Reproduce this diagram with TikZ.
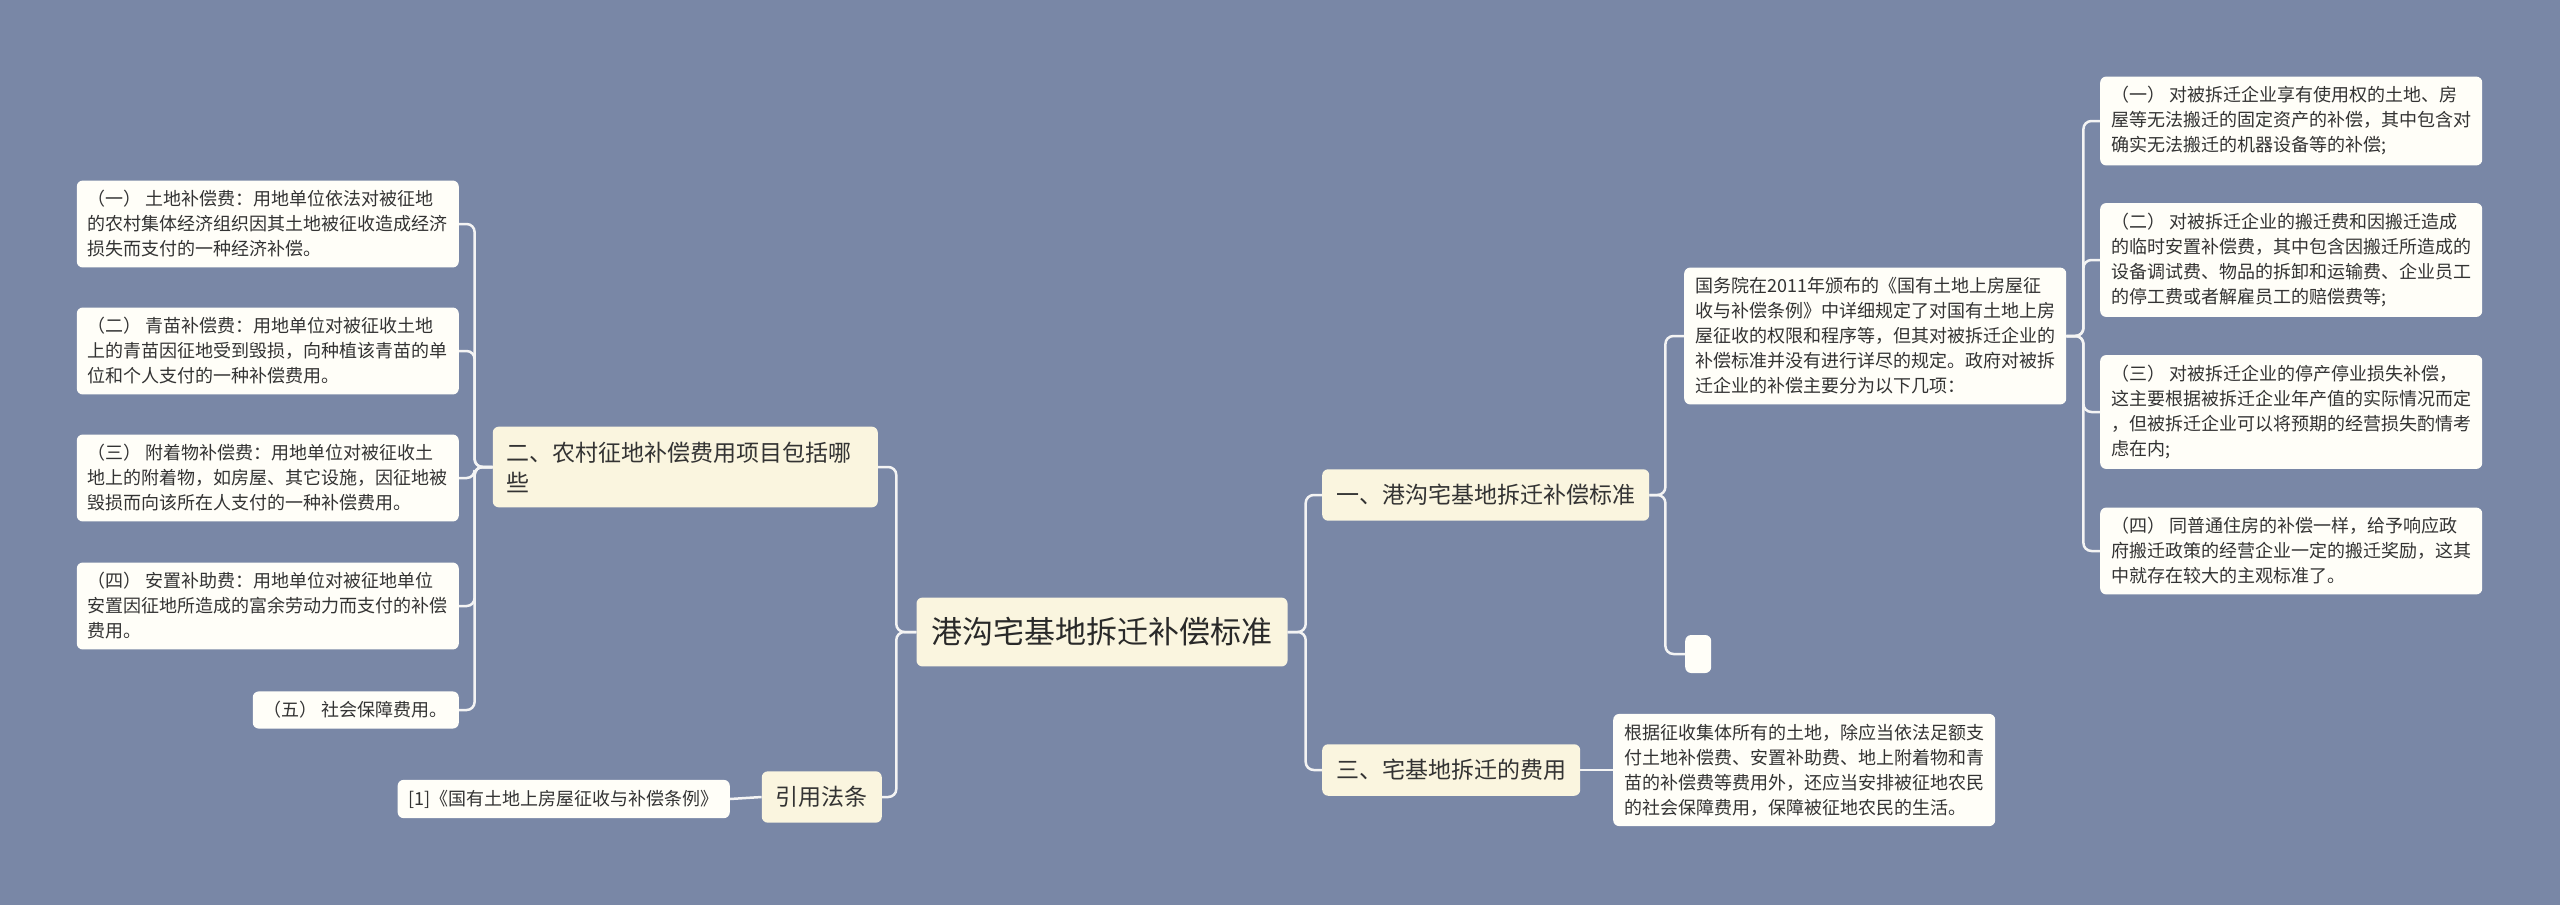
\documentclass[tikz,border=0pt]{standalone}
\usepackage{fontspec}
\setmainfont{Noto Sans CJK SC}
\usepackage{xcolor}
\usepackage{tikz}
\usetikzlibrary{positioning}
\definecolor{canvas}{HTML}{7987A6}
\definecolor{leaffill}{HTML}{FFFEF8}
\definecolor{branchfill}{HTML}{FAF5DF}
\definecolor{ink}{HTML}{333333}
\definecolor{wire}{HTML}{F4F4F4}

\begin{document}
\begin{tikzpicture}[x=1bp, y=-1bp,
    leaf/.style={fill=leaffill, rounded corners=6bp, align=left, text=ink,
      inner xsep=11bp, inner ysep=10bp, font=\fontsize{18bp}{25bp}\selectfont},
    branch/.style={fill=branchfill, rounded corners=6bp, align=left, text=ink,
      inner xsep=14bp, inner ysep=15bp, font=\fontsize{23bp}{30bp}\selectfont},
    hub/.style={fill=branchfill, rounded corners=6bp, text=ink!80!black,
      inner xsep=15bp, inner ysep=20bp, font=\fontsize{31bp}{36bp}\selectfont},
    link/.style={draw=wire, line width=2.5bp, rounded corners=8bp}]
  \useasboundingbox (0,0) rectangle (2560,905);
  \fill[canvas] (0,0) rectangle (2560,905);

  % --- Centre ---
  \node[hub] (hub) at (1102,632) {港沟宅基地拆迁补偿标准};

  % --- Left side ---
  \node[branch, anchor=east, text width=357bp] (rural) at (878,467) {二、农村征地补偿费用项目包括哪\\些};
  \node[branch, anchor=east] (cite) at (882,797) {引用法条};
  \node[leaf, anchor=east] (ref) at (730,799) {[1]《国有土地上房屋征收与补偿条例》};

  \node[leaf, anchor=east] (rl1) at (459,224) {（一） 土地补偿费：用地单位依法对被征地\\的农村集体经济组织因其土地被征收造成经济\\损失而支付的一种经济补偿。};
  \node[leaf, anchor=east] (rl2) at (459,351) {（二） 青苗补偿费：用地单位对被征收土地\\上的青苗因征地受到毁损，向种植该青苗的单\\位和个人支付的一种补偿费用。};
  \node[leaf, anchor=east] (rl3) at (459,478) {（三） 附着物补偿费：用地单位对被征收土\\地上的附着物，如房屋、其它设施，因征地被\\毁损而向该所在人支付的一种补偿费用。};
  \node[leaf, anchor=east] (rl4) at (459,606) {（四） 安置补助费：用地单位对被征地单位\\安置因征地所造成的富余劳动力而支付的补偿\\费用。};
  \node[leaf, anchor=east] (rl5) at (459,710) {（五） 社会保障费用。};

  % --- Right side ---
  \node[branch, anchor=west] (std) at (1322,495) {一、港沟宅基地拆迁补偿标准};
  \node[branch, anchor=west] (cost) at (1322,770) {三、宅基地拆迁的费用};

  \node[leaf, anchor=west] (intro) at (1684,336) {国务院在2011年颁布的《国有土地上房屋征\\收与补偿条例》中详细规定了对国有土地上房\\屋征收的权限和程序等，但其对被拆迁企业的\\补偿标准并没有进行详尽的规定。政府对被拆\\迁企业的补偿主要分为以下几项：};
  \node[leaf, anchor=west, minimum width=26bp, minimum height=38bp, inner sep=0pt] (blank) at (1685,654) {};
  \node[leaf, anchor=west] (costtxt) at (1613,770) {根据征收集体所有的土地，除应当依法足额支\\付土地补偿费、安置补助费、地上附着物和青\\苗的补偿费等费用外，还应当安排被征地农民\\的社会保障费用，保障被征地农民的生活。};

  \node[leaf, anchor=west] (el1) at (2100,121) {（一） 对被拆迁企业享有使用权的土地、房\\屋等无法搬迁的固定资产的补偿，其中包含对\\确实无法搬迁的机器设备等的补偿;};
  \node[leaf, anchor=west] (el2) at (2100,260) {（二） 对被拆迁企业的搬迁费和因搬迁造成\\的临时安置补偿费，其中包含因搬迁所造成的\\设备调试费、物品的拆卸和运输费、企业员工\\的停工费或者解雇员工的赔偿费等;};
  \node[leaf, anchor=west] (el3) at (2100,412) {（三） 对被拆迁企业的停产停业损失补偿，\\这主要根据被拆迁企业年产值的实际情况而定\\，但被拆迁企业可以将预期的经营损失酌情考\\虑在内;};
  \node[leaf, anchor=west] (el4) at (2100,551) {（四） 同普通住房的补偿一样，给予响应政\\府搬迁政策的经营企业一定的搬迁奖励，这其\\中就存在较大的主观标准了。};

  % --- Connectors ---
  \foreach \n in {rural,cite}
    \draw[link] (hub.west) -- ++(-20,0) |- (\n.east);
  \foreach \n in {rl1,rl2,rl3,rl4,rl5}
    \draw[link] (rural.west) -- ++(-18,0) |- (\n.east);
  \draw[link] (cite.west) -- (ref.east);

  \foreach \n in {std,cost}
    \draw[link] (hub.east) -- ++(18,0) |- (\n.west);
  \foreach \n in {intro,blank}
    \draw[link] (std.east) -- ++(16,0) |- (\n.west);
  \foreach \n in {el1,el2,el3,el4}
    \draw[link] (intro.east) -- ++(17,0) |- (\n.west);
  \draw[link] (cost.east) -- (costtxt.west);
\end{tikzpicture}
\end{document}
